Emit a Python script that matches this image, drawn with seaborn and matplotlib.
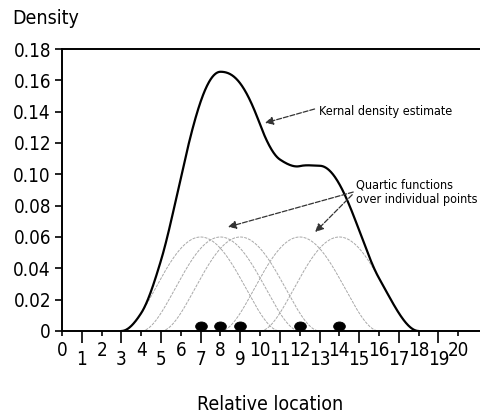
import numpy as np
import pandas as pd
import matplotlib
matplotlib.use("Agg")
import matplotlib.pyplot as plt
from matplotlib import font_manager as fm
import seaborn as sns
from matplotlib.path import Path
from matplotlib.transforms import Affine2D

# ---- data ----
points = [7, 8, 9, 12, 14]          # individual observations
bandwidth = 4.0                     # quartic kernel radius
kernel_peak = 0.06                  # height of each quartic function
x_ticks = list(range(0, 21))
y_ticks = [0, 0.02, 0.04, 0.06, 0.08, 0.10, 0.12, 0.14, 0.16, 0.18]
y_labels = ["0", "0.02", "0.04", "0.06", "0.08", "0.10", "0.12", "0.14", "0.16", "0.18"]

sns.set_theme(style="white")

# look for a narrow / condensed face, else fall back to Liberation Sans
narrow = None
for f in fm.fontManager.ttflist:
    nm = (f.name + " " + f.fname).lower()
    if ("narrow" in nm or "condensed" in nm or f.stretch in ("condensed", "semi-condensed")) \
            and f.style == "normal" and f.weight in (400, "normal", "regular"):
        narrow = f
        break
if narrow is not None:
    plt.rcParams["font.family"] = [narrow.name, "DejaVu Sans"]
    plt.rcParams["font.stretch"] = narrow.stretch
    tick_fs, lab_fs, ann_fs = 13.5, 14, 9
else:
    plt.rcParams["font.family"] = ["Liberation Sans", "DejaVu Sans"]
    tick_fs, lab_fs, ann_fs = 13.5, 14, 8.3
plt.rcParams["text.color"] = "black"

# quartic functions over each point and their sum
grid = np.linspace(0, 21, 1051)
rows = []
total = np.zeros_like(grid)
for p in points:
    u = (grid - p) / bandwidth
    k = np.where(np.abs(u) < 1, kernel_peak * (1 - u ** 2) ** 2, np.nan)
    total += np.nan_to_num(k)
    rows.append(pd.DataFrame({"x": grid, "y": k, "pt": str(p)}))
kern = pd.concat(rows, ignore_index=True).dropna()
kde = pd.DataFrame({"x": grid, "y": total})
kde = kde[(kde["x"] >= points[0] - bandwidth) & (kde["x"] <= points[-1] + bandwidth)]

fig = plt.figure(figsize=(4.81, 4.17), dpi=100)
ax = fig.add_axes([62 / 481, 86 / 417, 420 / 481, 282 / 417])

sns.lineplot(data=kern, x="x", y="y", units="pt", estimator=None,
             color="#a8a8a8", lw=0.7, ls=(0, (3, 1.2)), ax=ax, legend=False)
sns.lineplot(data=kde, x="x", y="y", color="black", lw=1.6, ax=ax, legend=False)

ell = Path.unit_circle().transformed(Affine2D().scale(1.3, 1.0))
sns.scatterplot(x=points, y=[0.0035] * len(points), marker=ell, s=70,
                color="black", edgecolor="black", ax=ax, zorder=5, clip_on=False)

ax.set_xlim(0, 21.2)
ax.set_ylim(0, 0.18)
for s in ["left", "bottom", "top"]:
    ax.spines[s].set_visible(True)
    ax.spines[s].set_color("black")
    ax.spines[s].set_linewidth(1.4)
ax.spines["right"].set_visible(False)

even = [t for t in x_ticks if t % 2 == 0]
odd = [t for t in x_ticks if t % 2 == 1]
ax.set_xticks(even)
ax.set_xticklabels([str(t) for t in even])
ax.set_xticks(odd, minor=True)
ax.set_xticklabels([str(t) for t in odd], minor=True)
ax.tick_params(axis="x", which="major", direction="out", length=3.5, width=1.2,
               pad=4.0, labelsize=tick_fs, colors="black", bottom=True)
ax.tick_params(axis="x", which="minor", direction="out", length=8.5, width=1.2,
               pad=5.0, labelsize=tick_fs, colors="black", bottom=True)
ax.set_yticks(y_ticks)
ax.set_yticklabels(y_labels)
ax.tick_params(axis="y", direction="out", length=5, width=1.2, pad=3,
               labelsize=tick_fs, colors="black", left=True)
ax.set_xlabel("")
ax.set_ylabel("")

arrow = dict(arrowstyle="-|>", color="#333333", lw=0.9, ls=(0, (4, 1.5)),
             mutation_scale=12, shrinkA=0, shrinkB=0)
ax.annotate("", xy=(10.25, 0.1328), xytext=(12.75, 0.1417), arrowprops=arrow)
ax.text(12.95, 0.1400, "Kernal density estimate", fontsize=ann_fs, va="center", ha="left")
ax.annotate("", xy=(8.38, 0.0664), xytext=(14.7, 0.0887), arrowprops=arrow)
ax.annotate("", xy=(12.78, 0.0632), xytext=(14.65, 0.0870), arrowprops=arrow)
ax.text(14.85, 0.0935, "Quartic functions", fontsize=ann_fs, va="center", ha="left")
ax.text(14.85, 0.0838, "over individual points", fontsize=ann_fs, va="center", ha="left")

fig.text(12 / 481, 1 - 18 / 417, "Density", fontsize=lab_fs, ha="left", va="center")
fig.text(270 / 481, 1 - 405 / 417, "Relative location", fontsize=lab_fs, ha="center", va="center")

fig.savefig("out.png", dpi=100)
